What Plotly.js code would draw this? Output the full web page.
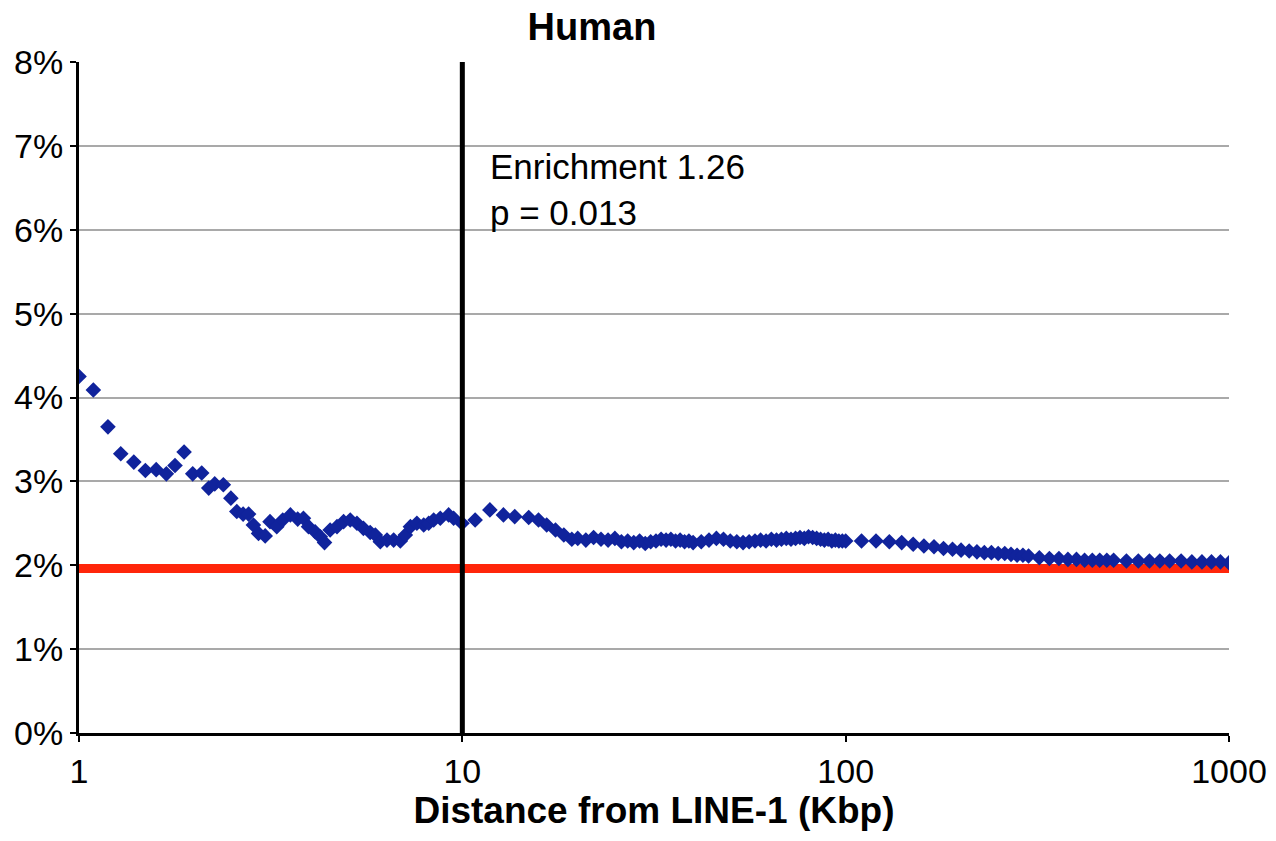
<!DOCTYPE html>
<html>
<head>
<meta charset="utf-8">
<script src="https://cdn.plot.ly/plotly-3.0.1.min.js"></script>
<style>
  html, body { margin: 0; padding: 0; background: #ffffff; }
  #chart { width: 1276px; height: 841px; }
</style>
</head>
<body>
<div id="chart"></div>
<script>
// Distance from LINE-1 (Kbp)
const distKbp = [
  1.00, 1.09, 1.19, 1.285, 1.39, 1.49, 1.59, 1.69, 1.78, 1.88,
  1.98, 2.09, 2.18, 2.26, 2.38, 2.49, 2.58, 2.68, 2.77, 2.85,
  2.94, 3.06, 3.15, 3.28, 3.40, 3.56, 3.72, 3.85, 3.97, 4.13,
  4.26, 4.37, 4.52, 4.71, 4.90, 5.10, 5.31, 5.52, 5.75, 5.93,
  6.11, 6.36, 6.62, 6.89, 7.10, 7.32, 7.61, 7.93, 8.17, 8.42,
  8.76, 9.21, 9.49, 9.98, 10.8, 11.8, 12.8, 13.7, 14.9, 15.8,
  16.6, 17.5, 18.4, 19.3,
  20, 21, 22, 23, 24, 25, 26, 27, 28, 29,
  30, 31, 32, 33, 34, 35, 36, 37, 38, 39,
  40, 42, 44, 46, 48, 50, 52, 54, 56, 58,
  60, 62, 64, 66, 68, 70, 72, 74, 76, 78,
  80, 82, 84, 86, 88, 90, 92, 94, 96, 98, 100,
  110, 120, 130, 140, 150, 160, 170, 180, 190, 200,
  210, 220, 230, 240, 250, 260, 270, 280, 290, 300,
  320, 340, 360, 380, 400, 420, 440, 460, 480, 500,
  540, 580, 620, 660, 700, 750, 800, 850, 900, 950, 1000
];
// Percentage of sites within that distance
const sitePct = [
  4.25, 4.09, 3.65, 3.33, 3.23, 3.13, 3.14, 3.09, 3.19, 3.35,
  3.09, 3.10, 2.92, 2.97, 2.96, 2.80, 2.64, 2.61, 2.61, 2.48,
  2.38, 2.35, 2.52, 2.46, 2.54, 2.60, 2.55, 2.56, 2.46, 2.40,
  2.34, 2.27, 2.42, 2.46, 2.52, 2.54, 2.50, 2.44, 2.39, 2.36,
  2.28, 2.30, 2.30, 2.29, 2.36, 2.46, 2.50, 2.48, 2.50, 2.54,
  2.56, 2.60, 2.56, 2.50, 2.54, 2.66, 2.60, 2.58, 2.57, 2.54,
  2.48, 2.42, 2.36, 2.31,
  2.32, 2.30, 2.33, 2.31, 2.30, 2.32, 2.28, 2.29, 2.27, 2.29,
  2.26, 2.28, 2.29, 2.31, 2.30, 2.31, 2.29, 2.30, 2.28, 2.29,
  2.27, 2.28, 2.30, 2.32, 2.31, 2.29, 2.28, 2.27, 2.28, 2.29,
  2.30, 2.29, 2.31, 2.30, 2.31, 2.32, 2.31, 2.32, 2.33, 2.32,
  2.34, 2.33, 2.32, 2.31, 2.30, 2.31, 2.29, 2.30, 2.29, 2.29, 2.29,
  2.29, 2.29, 2.28, 2.27, 2.25, 2.23, 2.22, 2.20, 2.19, 2.18,
  2.17, 2.16, 2.15, 2.15, 2.14, 2.14, 2.13, 2.12, 2.12, 2.11,
  2.09, 2.08, 2.08, 2.07, 2.07, 2.06, 2.06, 2.06, 2.06, 2.06,
  2.05, 2.05, 2.05, 2.05, 2.05, 2.05, 2.04, 2.04, 2.04, 2.04, 2.03
];
// Background (expected) level
const baselineX = [1, 1000];
const baselinePct = [1.96, 1.96];
// 10 Kbp cut-off line
const cutoffX = [10, 10];
const cutoffPct = [0, 8];

const titleText = 'Human';
const xTitleText = 'Distance from LINE-1 (Kbp)';
const annotationText = 'Enrichment 1.26<br>p = 0.013';
const xTickVals = [1, 10, 100, 1000];
const xTickText = ['1', '10', '100', '1000'];

const FONT = 'Liberation Sans, Arial, Helvetica, sans-serif';

const traces = [
  {
    x: baselineX, y: baselinePct, type: 'scatter', mode: 'lines',
    line: { color: 'rgb(255,38,10)', width: 9 },
    hoverinfo: 'skip', showlegend: false
  },
  {
    x: distKbp, y: sitePct, type: 'scatter', mode: 'markers',
    marker: { symbol: 'diamond', size: 12, color: '#10239c', line: { width: 0 } },
    showlegend: false
  },
  {
    x: cutoffX, y: cutoffPct, type: 'scatter', mode: 'lines',
    line: { color: '#000000', width: 5 },
    hoverinfo: 'skip', showlegend: false
  }
];

const layout = {
  width: 1276, height: 841,
  margin: { l: 79, r: 47, t: 62, b: 108 },
  paper_bgcolor: '#ffffff', plot_bgcolor: '#ffffff',
  font: { family: FONT, color: '#000000' },
  title: {
    text: '<b>' + titleText + '</b>',
    font: { family: FONT, size: 38, color: '#000000' },
    xref: 'container', x: 592 / 1276, xanchor: 'center',
    yref: 'container', y: 1 - 27 / 841, yanchor: 'middle'
  },
  xaxis: {
    type: 'log', range: [0, 3],
    tickvals: xTickVals, ticktext: xTickText,
    showgrid: false, zeroline: false,
    showline: true, linecolor: '#000000', linewidth: 3,
    ticks: 'outside', ticklen: 6, tickwidth: 2, tickcolor: '#000000',
    tickfont: { family: FONT, size: 34, color: '#000000' },
    title: {
      text: '<b>' + xTitleText + '</b>',
      font: { family: FONT, size: 37, color: '#000000' },
      standoff: 4
    }
  },
  yaxis: {
    range: [0, 8], dtick: 1, tick0: 0, ticksuffix: '%',
    showgrid: true, gridcolor: '#a9a9a9', gridwidth: 2,
    zeroline: false,
    showline: true, linecolor: '#000000', linewidth: 3,
    ticks: 'outside', ticklen: 6, tickwidth: 2, tickcolor: '#000000',
    tickfont: { family: FONT, size: 34, color: '#000000' }
  },
  annotations: [
    {
      xref: 'x', yref: 'y', x: 1.068, y: 6.48,
      xanchor: 'left', yanchor: 'middle', align: 'left',
      text: annotationText, showarrow: false,
      font: { family: FONT, size: 35, color: '#000000' }
    }
  ]
};

Plotly.newPlot('chart', traces, layout, { displayModeBar: false, staticPlot: true });
</script>
</body>
</html>
